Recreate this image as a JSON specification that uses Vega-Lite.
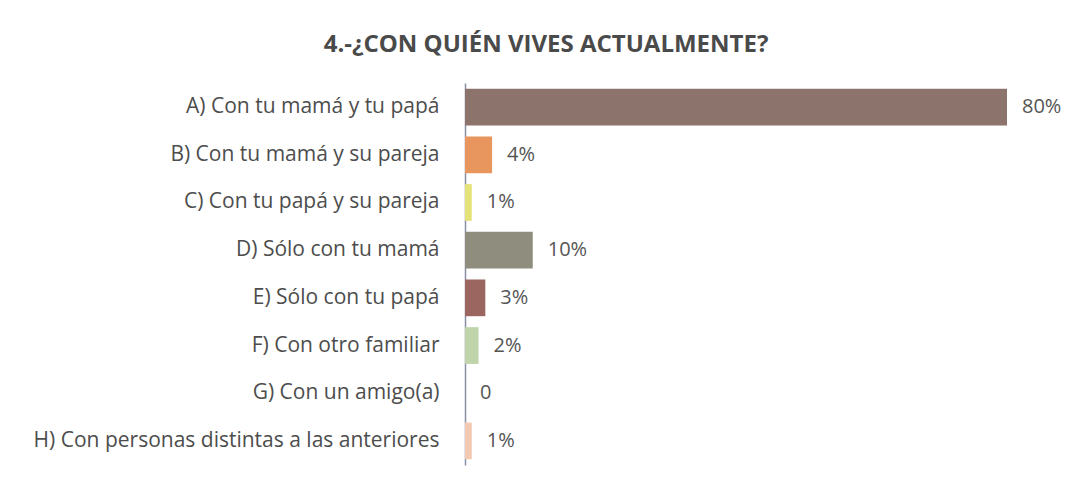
{
  "$schema": "https://vega.github.io/schema/vega-lite/v6.json",
  "autosize": {"type": "none"},
  "width": 542,
  "height": 382,
  "padding": {"left": 465, "top": 83, "right": 76, "bottom": 21},
  "background": "white",
  "title": {
    "text": "4.-¿CON QUIÉN VIVES ACTUALMENTE?",
    "frame": "group",
    "anchor": "middle",
    "dx": -190,
    "offset": 26,
    "font": "Open Sans",
    "fontSize": 24,
    "fontWeight": "bold",
    "color": "#4a4a4a"
  },
  "data": {
    "values": [
      {"categoria": "A) Con tu mamá y tu papá", "valor": 80, "etiqueta": "80%"},
      {"categoria": "B) Con tu mamá y su pareja", "valor": 4, "etiqueta": "4%"},
      {"categoria": "C) Con tu papá y su pareja", "valor": 1, "etiqueta": "1%"},
      {"categoria": "D) Sólo con tu mamá", "valor": 10, "etiqueta": "10%"},
      {"categoria": "E) Sólo con tu papá", "valor": 3, "etiqueta": "3%"},
      {"categoria": "F) Con otro familiar", "valor": 2, "etiqueta": "2%"},
      {"categoria": "G) Con un amigo(a)", "valor": 0, "etiqueta": "0"},
      {"categoria": "H) Con personas distintas a las anteriores", "valor": 1, "etiqueta": "1%"}
    ]
  },
  "encoding": {
    "y": {
      "field": "categoria",
      "type": "nominal",
      "sort": null,
      "scale": {"paddingInner": 0.23, "paddingOuter": 0.12},
      "axis": {
        "title": null,
        "ticks": false,
        "domain": true,
        "domainColor": "#8a8fa8",
        "domainWidth": 1.5,
        "labelFont": "Open Sans",
        "labelFontSize": 21,
        "labelColor": "#4d4d4d",
        "labelPadding": 26,
        "labelLimit": 500
      }
    },
    "x": {
      "field": "valor",
      "type": "quantitative",
      "scale": {"domain": [0, 80], "nice": false},
      "axis": null
    }
  },
  "layer": [
    {
      "mark": {"type": "bar"},
      "encoding": {
        "color": {
          "field": "categoria",
          "type": "nominal",
          "sort": null,
          "legend": null,
          "scale": {
            "range": ["#8c736c", "#e8955e", "#e6e27a", "#8f8d7e", "#9c6660", "#bfd4aa", "#ffffff", "#f3c9b3"]
          }
        }
      }
    },
    {
      "mark": {"type": "text", "align": "left", "dx": 15, "font": "Open Sans", "fontSize": 20, "color": "#555555"},
      "encoding": {"text": {"field": "etiqueta"}}
    }
  ],
  "config": {"view": {"stroke": null}}
}
